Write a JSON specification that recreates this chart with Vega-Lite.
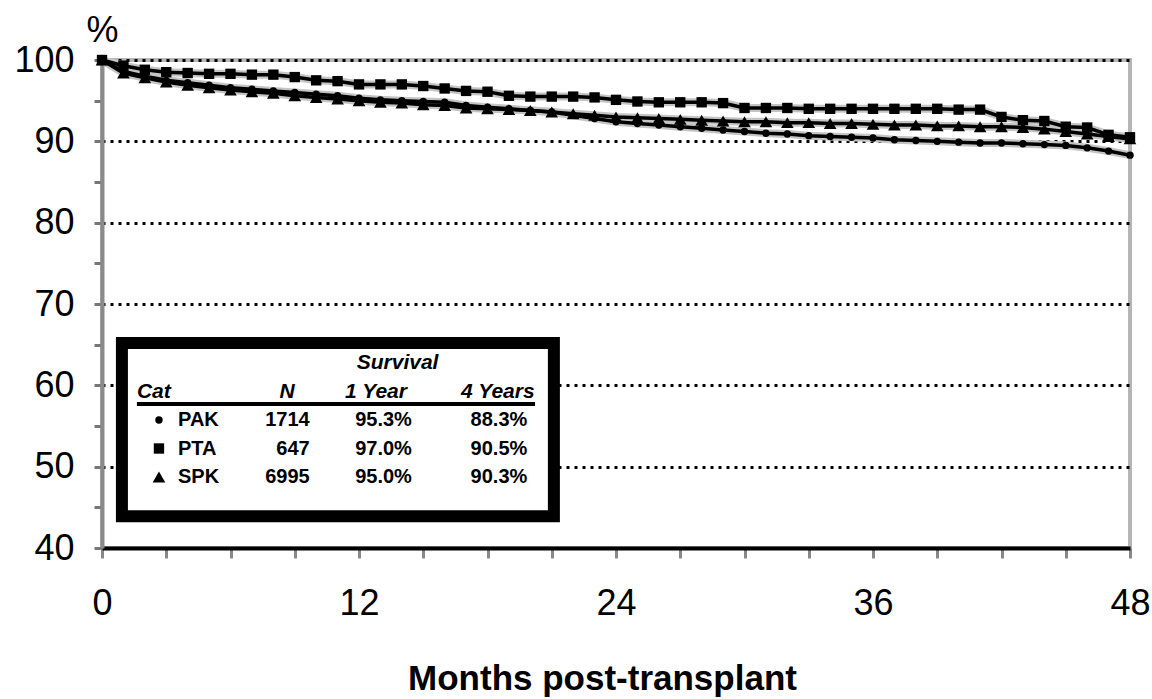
{
  "$schema": "https://vega.github.io/schema/vega-lite/v6.json",
  "width": 1028,
  "height": 488,
  "autosize": {"type": "none"},
  "padding": {"left": 102, "top": 60, "right": 22, "bottom": 151},
  "background": "white",
  "config": {
    "font": "Liberation Sans",
    "view": {"stroke": "#b5b5b5", "strokeWidth": 4}
  },
  "resolve": {"scale": {"y": "independent"}},
  "layer": [
    {
      "data": {"values": [
        {"month": 0, "PAK": 100, "PTA": 100, "SPK": 100},
        {"month": 1, "PAK": 98.6, "PTA": 99.3, "SPK": 98.4},
        {"month": 2, "PAK": 98.0, "PTA": 98.8, "SPK": 97.8},
        {"month": 3, "PAK": 97.5, "PTA": 98.5, "SPK": 97.3},
        {"month": 4, "PAK": 97.2, "PTA": 98.4, "SPK": 96.9},
        {"month": 5, "PAK": 96.9, "PTA": 98.3, "SPK": 96.6},
        {"month": 6, "PAK": 96.6, "PTA": 98.3, "SPK": 96.3},
        {"month": 7, "PAK": 96.4, "PTA": 98.2, "SPK": 96.1},
        {"month": 8, "PAK": 96.2, "PTA": 98.2, "SPK": 95.9},
        {"month": 9, "PAK": 96.0, "PTA": 97.9, "SPK": 95.6},
        {"month": 10, "PAK": 95.8, "PTA": 97.5, "SPK": 95.4},
        {"month": 11, "PAK": 95.6, "PTA": 97.4, "SPK": 95.2},
        {"month": 12, "PAK": 95.3, "PTA": 97.0, "SPK": 95.0},
        {"month": 13, "PAK": 95.1, "PTA": 97.0, "SPK": 94.8},
        {"month": 14, "PAK": 95.0, "PTA": 97.0, "SPK": 94.7},
        {"month": 15, "PAK": 94.9, "PTA": 96.8, "SPK": 94.5},
        {"month": 16, "PAK": 94.8, "PTA": 96.5, "SPK": 94.4},
        {"month": 17, "PAK": 94.4, "PTA": 96.2, "SPK": 94.1},
        {"month": 18, "PAK": 94.2, "PTA": 96.1, "SPK": 94.0},
        {"month": 19, "PAK": 94.0, "PTA": 95.6, "SPK": 93.9},
        {"month": 20, "PAK": 93.8, "PTA": 95.5, "SPK": 93.8},
        {"month": 21, "PAK": 93.6, "PTA": 95.5, "SPK": 93.6},
        {"month": 22, "PAK": 93.2, "PTA": 95.5, "SPK": 93.4},
        {"month": 23, "PAK": 92.8, "PTA": 95.4, "SPK": 93.2},
        {"month": 24, "PAK": 92.4, "PTA": 95.1, "SPK": 93.0},
        {"month": 25, "PAK": 92.2, "PTA": 94.9, "SPK": 92.9},
        {"month": 26, "PAK": 92.0, "PTA": 94.8, "SPK": 92.8},
        {"month": 27, "PAK": 91.8, "PTA": 94.8, "SPK": 92.7},
        {"month": 28, "PAK": 91.6, "PTA": 94.8, "SPK": 92.6},
        {"month": 29, "PAK": 91.4, "PTA": 94.7, "SPK": 92.5},
        {"month": 30, "PAK": 91.2, "PTA": 94.1, "SPK": 92.4},
        {"month": 31, "PAK": 91.0, "PTA": 94.1, "SPK": 92.4},
        {"month": 32, "PAK": 90.9, "PTA": 94.1, "SPK": 92.3},
        {"month": 33, "PAK": 90.7, "PTA": 94.0, "SPK": 92.3},
        {"month": 34, "PAK": 90.6, "PTA": 94.0, "SPK": 92.2},
        {"month": 35, "PAK": 90.5, "PTA": 94.0, "SPK": 92.2},
        {"month": 36, "PAK": 90.4, "PTA": 94.0, "SPK": 92.1},
        {"month": 37, "PAK": 90.2, "PTA": 94.0, "SPK": 92.0},
        {"month": 38, "PAK": 90.1, "PTA": 94.0, "SPK": 92.0},
        {"month": 39, "PAK": 90.0, "PTA": 94.0, "SPK": 91.9},
        {"month": 40, "PAK": 89.9, "PTA": 93.9, "SPK": 91.9},
        {"month": 41, "PAK": 89.8, "PTA": 93.9, "SPK": 91.8},
        {"month": 42, "PAK": 89.8, "PTA": 93.0, "SPK": 91.8},
        {"month": 43, "PAK": 89.7, "PTA": 92.6, "SPK": 91.7},
        {"month": 44, "PAK": 89.6, "PTA": 92.5, "SPK": 91.5},
        {"month": 45, "PAK": 89.5, "PTA": 91.8, "SPK": 91.2},
        {"month": 46, "PAK": 89.2, "PTA": 91.7, "SPK": 90.9},
        {"month": 47, "PAK": 88.8, "PTA": 90.8, "SPK": 90.6},
        {"month": 48, "PAK": 88.3, "PTA": 90.5, "SPK": 90.3}
      ]},
      "transform": [{"fold": ["PAK", "PTA", "SPK"], "as": ["cat", "survival"]}],
      "layer": [
        {
          "mark": {"type": "line", "color": "#c4c4c4", "strokeWidth": 8},
          "encoding": {
            "x": {
              "field": "month", "type": "quantitative",
              "scale": {"domain": [0, 48], "nice": false, "zero": false},
              "axis": {
                "values": [0, 3, 6, 9, 12, 15, 18, 21, 24, 27, 30, 33, 36, 39, 42, 45, 48],
                "labelExpr": "datum.value % 12 == 0 ? datum.label : ''",
                "labelOverlap": false, "labelFlush": false,
                "labelFont": "Liberation Sans", "labelFontSize": 36, "labelColor": "black",
                "labelPadding": 28,
                "tickSize": 10, "tickColor": "#888", "tickWidth": 3,
                "domainColor": "black", "domainWidth": 4,
                "grid": false,
                "title": "Months post-transplant",
                "titleFont": "Liberation Sans", "titleFontSize": 35, "titleFontWeight": "bold", "titleColor": "black",
                "titleX": 500, "titleY": 141, "titleBaseline": "alphabetic"
              }
            },
            "y": {
              "field": "survival", "type": "quantitative",
              "scale": {"domain": [40, 100], "nice": false, "zero": false},
              "axis": {
                "values": [40, 45, 50, 55, 60, 65, 70, 75, 80, 85, 90, 95, 100],
                "labelExpr": "datum.value % 10 == 0 ? datum.label : ''",
                "labelFont": "Liberation Sans", "labelFontSize": 36, "labelColor": "black",
                "labelPadding": 20,
                "tickSize": 8, "tickColor": "#777", "tickWidth": 3,
                "domainColor": "#8a8a8a", "domainWidth": 4,
                "grid": true, "gridColor": "black", "gridDash": [3, 5], "gridWidth": 3,
                "gridOpacity": {"condition": {"test": "datum.value % 10 == 0 && datum.value > 40", "value": 1}, "value": 0},
                "title": "%", "titleAngle": 0, "titleX": 0, "titleY": -30,
                "titleAlign": "center", "titleBaseline": "middle",
                "titleFont": "Liberation Sans", "titleFontSize": 36, "titleFontWeight": "normal", "titleColor": "black"
              }
            },
            "detail": {"field": "cat", "type": "nominal"}
          }
        },
        {
          "mark": {"type": "line", "color": "black", "strokeWidth": 3.5},
          "encoding": {
            "x": {"field": "month", "type": "quantitative"},
            "y": {"field": "survival", "type": "quantitative"},
            "detail": {"field": "cat", "type": "nominal"}
          }
        },
        {
          "mark": {"type": "point", "filled": true, "opacity": 1, "color": "black"},
          "encoding": {
            "x": {"field": "month", "type": "quantitative"},
            "y": {"field": "survival", "type": "quantitative"},
            "shape": {"field": "cat", "type": "nominal", "scale": {"domain": ["PAK", "PTA", "SPK"], "range": ["circle", "square", "triangle-up"]}, "legend": null},
            "size": {"field": "cat", "type": "nominal", "scale": {"domain": ["PAK", "PTA", "SPK"], "range": [55, 160, 90]}, "legend": null}
          }
        },
        {
          "data": {"values": [{"box": "legend"}]},
          "mark": {"type": "rect", "fill": "white", "stroke": "black", "strokeWidth": 12},
          "encoding": {
            "x": {"datum": 0.93, "type": "quantitative"},
            "x2": {"datum": 21.1},
            "y": {"datum": 65.2, "type": "quantitative"},
            "y2": {"datum": 43.9}
          }
        },
        {
          "data": {"values": [{"box": "legend"}]},
          "mark": {"type": "rule", "color": "black", "strokeWidth": 4},
          "encoding": {
            "x": {"datum": 1.63, "type": "quantitative"},
            "x2": {"datum": 20.22},
            "y": {"datum": 57.7, "type": "quantitative"}
          }
        },
        {
          "data": {"values": [
            {"label": "Survival", "col": 13.8, "row": 62.74, "align": "center"},
            {"label": "Cat", "col": 1.63, "row": 59.18, "align": "left"},
            {"label": "N", "col": 9.0, "row": 59.18, "align": "right"},
            {"label": "1 Year", "col": 14.24, "row": 59.18, "align": "right"},
            {"label": "4 Years", "col": 20.2, "row": 59.18, "align": "right"}
          ]},
          "layer": [
            {
              "transform": [{"filter": "datum.align == 'center'"}],
              "mark": {"type": "text", "align": "center", "baseline": "middle", "font": "Liberation Sans", "fontSize": 21, "fontWeight": "bold", "fontStyle": "italic", "color": "black"},
              "encoding": {
                "x": {"field": "col", "type": "quantitative"},
                "y": {"field": "row", "type": "quantitative"},
                "text": {"field": "label"}
              }
            },
            {
              "transform": [{"filter": "datum.align == 'left'"}],
              "mark": {"type": "text", "align": "left", "baseline": "middle", "font": "Liberation Sans", "fontSize": 21, "fontWeight": "bold", "fontStyle": "italic", "color": "black"},
              "encoding": {
                "x": {"field": "col", "type": "quantitative"},
                "y": {"field": "row", "type": "quantitative"},
                "text": {"field": "label"}
              }
            },
            {
              "transform": [{"filter": "datum.align == 'right'"}],
              "mark": {"type": "text", "align": "right", "baseline": "middle", "font": "Liberation Sans", "fontSize": 21, "fontWeight": "bold", "fontStyle": "italic", "color": "black"},
              "encoding": {
                "x": {"field": "col", "type": "quantitative"},
                "y": {"field": "row", "type": "quantitative"},
                "text": {"field": "label"}
              }
            }
          ]
        }
      ]
    },
    {
      "data": {"values": [
        {"cat": "PAK", "n": "1714", "y1": "95.3%", "y4": "88.3%"},
        {"cat": "PTA", "n": "647", "y1": "97.0%", "y4": "90.5%"},
        {"cat": "SPK", "n": "6995", "y1": "95.0%", "y4": "90.3%"}
      ]},
      "encoding": {
        "y": {"field": "cat", "type": "nominal", "scale": {"type": "point", "domain": ["PAK", "PTA", "SPK"], "range": [360, 417], "padding": 0}, "axis": null}
      },
      "layer": [
        {
          "mark": {"type": "point", "filled": true, "opacity": 1, "color": "black"},
          "encoding": {
            "x": {"datum": 2.66, "type": "quantitative"},
            "shape": {"field": "cat", "type": "nominal", "legend": null},
            "size": {"field": "cat", "type": "nominal", "legend": null}
          }
        },
        {
          "mark": {"type": "text", "align": "left", "baseline": "middle", "font": "Liberation Sans", "fontSize": 20, "fontWeight": "bold", "color": "black"},
          "encoding": {"x": {"datum": 3.55, "type": "quantitative"}, "text": {"field": "cat"}}
        },
        {
          "mark": {"type": "text", "align": "right", "baseline": "middle", "font": "Liberation Sans", "fontSize": 20, "fontWeight": "bold", "color": "black"},
          "encoding": {"x": {"datum": 9.7, "type": "quantitative"}, "text": {"field": "n"}}
        },
        {
          "mark": {"type": "text", "align": "right", "baseline": "middle", "font": "Liberation Sans", "fontSize": 20, "fontWeight": "bold", "color": "black"},
          "encoding": {"x": {"datum": 14.47, "type": "quantitative"}, "text": {"field": "y1"}}
        },
        {
          "mark": {"type": "text", "align": "right", "baseline": "middle", "font": "Liberation Sans", "fontSize": 20, "fontWeight": "bold", "color": "black"},
          "encoding": {"x": {"datum": 19.86, "type": "quantitative"}, "text": {"field": "y4"}}
        }
      ]
    }
  ]
}
